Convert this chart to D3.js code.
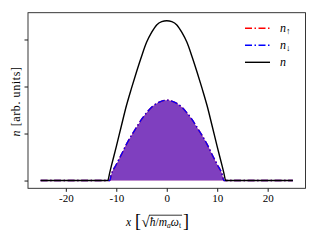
<!DOCTYPE html>
<html>
<head>
<meta charset="utf-8">
<script src="https://cdn.jsdelivr.net/npm/d3@7"></script>
<style>
  body { margin: 0; background: #fff; }
  svg { display: block; font-family: "Liberation Serif", "DejaVu Serif", serif; }
</style>
</head>
<body>
<svg id="chart" width="320" height="249"></svg>
<script>
// positions along the trap
const xs = [-25, -11.7, -11.3, -11, -10, -9, -8, -7, -6, -5, -4, -3, -2, -1, 0,
            1, 2, 3, 4, 5, 6, 7, 8, 9, 10, 11, 11.3, 11.7, 25];
// total density n
const nTotal = [0, 0, 0.17, 0.30, 0.72, 1.16, 1.59, 1.96, 2.31, 2.64, 2.94, 3.15, 3.31, 3.38, 3.40,
                3.38, 3.31, 3.15, 2.94, 2.64, 2.31, 1.96, 1.59, 1.16, 0.72, 0.30, 0.17, 0, 0];
// spin up / spin down densities
const nUp = [0, 0, 0, 0.12, 0.34, 0.55, 0.77, 0.96, 1.13, 1.30, 1.44, 1.56, 1.64, 1.69, 1.71,
             1.69, 1.64, 1.56, 1.44, 1.30, 1.13, 0.96, 0.77, 0.55, 0.34, 0.12, 0, 0, 0];
const nDown = [0, 0, 0, 0.12, 0.34, 0.55, 0.77, 0.96, 1.13, 1.30, 1.44, 1.56, 1.64, 1.69, 1.71,
               1.69, 1.64, 1.56, 1.44, 1.30, 1.13, 0.96, 0.77, 0.55, 0.34, 0.12, 0, 0, 0];
const xTicks = [-20, -10, 0, 10, 20];
const yTicks = [0, 1, 2, 3];

const svg = d3.select("#chart");
const margin = { l: 28, r: 14.5, t: 12.7, b: 60.7 };
const width = 320;
const height = 249;

const x = d3.scaleLinear().domain([-27.5, 27.5]).range([margin.l, width - margin.r]);
const y = d3.scaleLinear().domain([-0.165, 3.57]).range([height - margin.b, margin.t]);

const toPts = (vals) => xs.map((v, i) => [v, vals[i]]);

const area = d3.area()
  .x((d) => x(d[0]))
  .y0(y(0))
  .y1((d) => y(d[1]))
  .curve(d3.curveMonotoneX);

const line = d3.line()
  .x((d) => x(d[0]))
  .y((d) => y(d[1]))
  .curve(d3.curveMonotoneX);

// filled regions (red + blue at half opacity give the purple)
svg.append("path").attr("d", area(toPts(nUp))).attr("fill", "red").attr("fill-opacity", 0.5);
svg.append("path").attr("d", area(toPts(nDown))).attr("fill", "blue").attr("fill-opacity", 0.5);

const dashdot = "7,2.5,1.5,2.5";
svg.append("path").attr("d", line(toPts(nUp)))
  .attr("fill", "none").attr("stroke", "red").attr("stroke-width", 1.4)
  .attr("stroke-dasharray", dashdot);
svg.append("path").attr("d", line(toPts(nDown)))
  .attr("fill", "none").attr("stroke", "blue").attr("stroke-width", 1.4)
  .attr("stroke-dasharray", dashdot);
svg.append("path").attr("d", line(toPts(nTotal)))
  .attr("fill", "none").attr("stroke", "black").attr("stroke-width", 1.4);

// axes
const xAxis = d3.axisBottom(x).tickValues(xTicks).tickSize(3.5).tickPadding(2.5)
  .tickFormat((d) => String(d));
const yAxis = d3.axisLeft(y).tickValues(yTicks).tickSize(3.5).tickFormat("");

const gx = svg.append("g").attr("transform", `translate(0, ${height - margin.b})`).call(xAxis);
gx.select(".domain").remove();
gx.selectAll("text").attr("font-size", 11).attr("font-family", "Liberation Serif").attr("fill", "#000");
gx.selectAll("line").attr("stroke", "#000").attr("stroke-width", 0.9);

const gy = svg.append("g").attr("transform", `translate(${margin.l}, 0)`).call(yAxis);
gy.select(".domain").remove();
gy.selectAll("line").attr("stroke", "#000").attr("stroke-width", 0.9);

// frame
svg.append("rect")
  .attr("x", margin.l).attr("y", margin.t)
  .attr("width", width - margin.l - margin.r)
  .attr("height", height - margin.t - margin.b)
  .attr("fill", "none").attr("stroke", "#222").attr("stroke-width", 0.9);

// y label
const yl = svg.append("text")
  .attr("transform", `translate(20, ${(margin.t + height - margin.b) / 2 + 1}) rotate(-90)`)
  .attr("text-anchor", "middle")
  .attr("font-size", 12)
  .attr("letter-spacing", 0.6);
yl.append("tspan").attr("font-style", "italic").text("n");
yl.append("tspan").text(" [arb. units]");

// x label
const xl = svg.append("text")
  .attr("x", 126).attr("y", 225.5)
  .attr("font-size", 11.5);
xl.append("tspan").attr("font-style", "italic").text("x");
xl.append("tspan").attr("font-size", 18).attr("dx", 4).attr("dy", 1.5).text("[");
xl.append("tspan").attr("font-size", 15).attr("dx", 0.5).attr("dy", -0.5).text("√");
xl.append("tspan").attr("font-style", "italic").attr("dy", -1).text("ħ");
xl.append("tspan").text("/");
xl.append("tspan").attr("font-style", "italic").text("m");
xl.append("tspan").attr("font-style", "italic").attr("font-size", 7.5).attr("dy", 2).text("a");
xl.append("tspan").attr("font-style", "italic").attr("dy", -2).text("ω");
xl.append("tspan").attr("font-size", 7.5).attr("dy", 2).text("t");
xl.append("tspan").attr("font-size", 18).attr("dx", 2).attr("dy", -0.5).text("]");

// overline of the square root, measured from the rendered glyphs
const node = xl.node();
const full = node.textContent;
const iRoot = full.indexOf("√");
const iEnd = full.indexOf("t");
const rootEnd = node.getEndPositionOfChar(iRoot);
const e = node.getEndPositionOfChar(iEnd);
const ext = node.getExtentOfChar(iRoot);
svg.append("line")
  .attr("x1", rootEnd.x - 0.8).attr("x2", e.x + 1)
  .attr("y1", ext.y + 1.7).attr("y2", ext.y + 1.7)
  .attr("stroke", "#000").attr("stroke-width", 0.8);

// legend
const legendRows = [
  { name: "n", sub: "↑", color: "red", dash: dashdot },
  { name: "n", sub: "↓", color: "blue", dash: dashdot },
  { name: "n", sub: "", color: "black", dash: null },
];
const legend = svg.append("g");
legendRows.forEach((r, i) => {
  const yy = 28.3 + i * 17;
  legend.append("line")
    .attr("x1", 245).attr("x2", 270).attr("y1", yy).attr("y2", yy)
    .attr("stroke", r.color).attr("stroke-width", 1.4)
    .attr("stroke-dasharray", r.dash);
  const t = legend.append("text").attr("x", 280).attr("y", yy + 3.5).attr("font-size", 12);
  t.append("tspan").attr("font-style", "italic").text(r.name);
  if (r.sub) t.append("tspan").attr("font-size", 9).attr("dy", 2.5).text(r.sub);
});
</script>
</body>
</html>
